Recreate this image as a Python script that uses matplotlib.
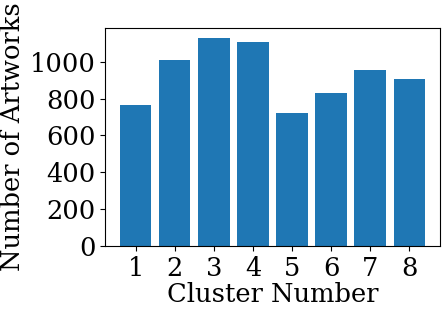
import matplotlib
matplotlib.use("Agg")
import matplotlib.pyplot as plt

# cluster sizes
clusters = [1, 2, 3, 4, 5, 6, 7, 8]
counts = [767, 1007, 1127, 1105, 724, 829, 954, 904]

plt.rcParams['font.family'] = 'DejaVu Serif'
plt.rcParams['font.size'] = 18.5

fig = plt.figure(figsize=(4.46, 3.10), dpi=100)
ax = fig.add_axes([0.2354, 0.2065, 0.7511, 0.7032])

ax.bar(clusters, counts, color="#1f77b4")
ax.set_xticks(clusters)
ax.set_yticks([0, 200, 400, 600, 800, 1000])
ax.set_xlabel("Cluster Number", labelpad=1)
ax.set_ylabel("Number of Artworks", labelpad=3)

fig.savefig("out.png", dpi=100, facecolor="white")
